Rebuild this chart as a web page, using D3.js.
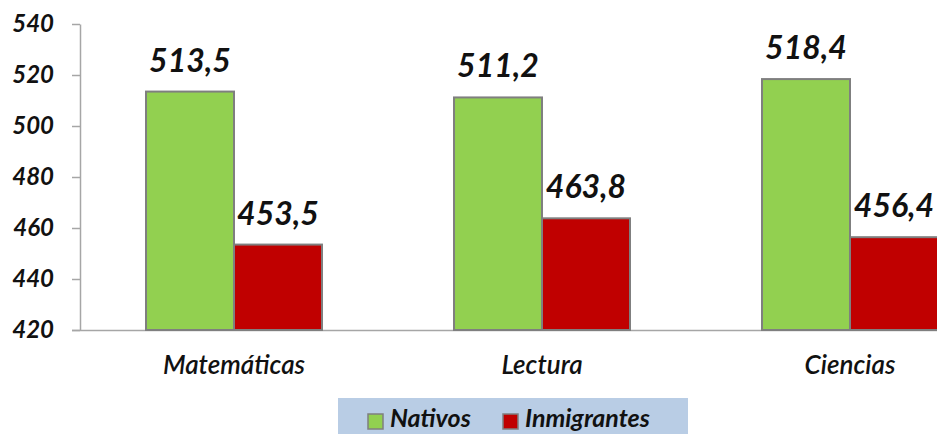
<!DOCTYPE html>
<html>
<head>
<meta charset="utf-8">
<script src="https://cdn.jsdelivr.net/npm/d3@7"></script>
<style>
  body { margin: 0; background: #fff; overflow: hidden; }
  text { font-family: Lato, "Open Sans", sans-serif; font-style: italic; fill: #111; }
</style>
</head>
<body>
<div id="chart"></div>
<script>
// Data
var categories = ["Matemáticas", "Lectura", "Ciencias"];
var series = ["Nativos", "Inmigrantes"];
var nativos = [513.5, 511.2, 518.4];
var inmigrantes = [453.5, 463.8, 456.4];
var yTicks = [420, 440, 460, 480, 500, 520, 540];

var colors = { Nativos: "#92d050", Inmigrantes: "#c00000" };

var width = 937, height = 434;

var svg = d3.select("#chart")
    .append("svg")
        .attr("width", width)
        .attr("height", height);

// Scales (plot area runs past the right edge, like the original)
var x = d3.scaleBand()
    .domain(categories)
    .range([80, 1004])
    .paddingInner(0.4286)
    .paddingOuter(0.2143);

var xs = d3.scaleBand()
    .domain(series)
    .range([0, x.bandwidth()]);

var y = d3.scaleLinear().domain([420, 540]).range([330, 24]);

// Y axis
var yAxis = svg.append("g")
    .attr("transform", "translate(80,0)")
    .call(d3.axisLeft(y).tickValues(yTicks).tickSize(8).tickPadding(18).tickSizeOuter(0));
yAxis.select(".domain").attr("stroke", "#a6a6a6").attr("stroke-width", 1.5);
yAxis.selectAll(".tick line").attr("stroke", "#a6a6a6").attr("stroke-width", 1.5);
yAxis.selectAll(".tick text")
    .style("font-size", "24px")
    .style("font-weight", "bold")
    .attr("fill", "#1a1a1a");

// X axis baseline
var xAxis = svg.append("g")
    .attr("transform", "translate(0,330)")
    .call(d3.axisBottom(x).tickSize(0).tickPadding(26));
xAxis.select(".domain").attr("stroke", "#a6a6a6").attr("stroke-width", 1.5)
    .attr("d", "M72,0.5H1004");
xAxis.selectAll(".tick text")
    .style("font-size", "26px")
    .style("font-weight", "600")
    .attr("fill", "#1a1a1a");

// Bars
var rows = categories.map(function(c, i) {
    return { cat: c, values: [
        { key: "Nativos", value: nativos[i] },
        { key: "Inmigrantes", value: inmigrantes[i] }
    ]};
});

var groups = svg.selectAll(".grp")
    .data(rows)
    .enter().append("g")
        .attr("class", "grp")
        .attr("transform", function(d) { return "translate(" + x(d.cat) + ",0)"; });

groups.selectAll("rect")
    .data(function(d) { return d.values; })
    .enter().append("rect")
        .attr("x", function(d) { return xs(d.key); })
        .attr("y", function(d) { return y(d.value); })
        .attr("width", xs.bandwidth())
        .attr("height", function(d) { return y(420) - y(d.value); })
        .attr("fill", function(d) { return colors[d.key]; })
        .attr("stroke", "#7f7f7f")
        .attr("stroke-width", 2);

// Value labels
var fmt = function(v) { return d3.format(".1f")(v).replace(".", ","); };
groups.selectAll(".val")
    .data(function(d) { return d.values; })
    .enter().append("text")
        .attr("class", "val")
        .attr("x", function(d) { return xs(d.key) + xs.bandwidth() / 2; })
        .attr("y", function(d) { return y(d.value) - 20; })
        .attr("text-anchor", "middle")
        .style("font-size", "32px")
        .style("font-weight", "bold")
        .text(function(d) { return fmt(d.value); });

// Legend
var legend = svg.append("g");
legend.append("rect")
    .attr("x", 338).attr("y", 398)
    .attr("width", 350).attr("height", 40)
    .attr("fill", "#b9cde5");

var legX = [368, 503];
series.forEach(function(s, i) {
    legend.append("rect")
        .attr("x", legX[i]).attr("y", 414)
        .attr("width", 15).attr("height", 15)
        .attr("fill", colors[s])
        .attr("stroke", "#7f7f7f")
        .attr("stroke-width", 1.5);
    legend.append("text")
        .attr("x", legX[i] + 22).attr("y", 427)
        .style("font-size", "25px")
        .style("font-weight", "bold")
        .text(s);
});
</script>
</body>
</html>
